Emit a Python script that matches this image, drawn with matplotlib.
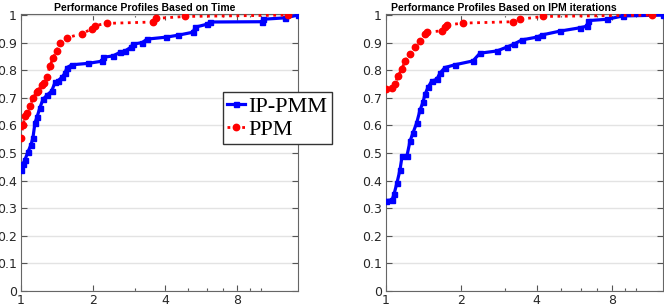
import numpy as np
import matplotlib.pyplot as plt
from matplotlib.ticker import FixedLocator, NullFormatter

# performance profile data (tau, fraction of problems)
time_ippmm_tau = [1.0, 1.019, 1.039, 1.070, 1.101, 1.122, 1.144, 1.166, 1.200,
                  1.236, 1.284, 1.343, 1.387, 1.427, 1.483, 1.527, 1.556, 1.633,
                  1.904, 2.179, 2.20, 2.42, 2.59, 2.72, 2.88, 2.93, 3.20, 3.36,
                  4.03, 4.52, 5.23, 5.33, 5.98, 6.15, 10.15, 10.24, 12.65, 14.34]
time_ippmm_rho = [0.44, 0.46, 0.476, 0.505, 0.53, 0.556, 0.61, 0.63, 0.665,
                  0.695, 0.71, 0.725, 0.756, 0.762, 0.775, 0.79, 0.81, 0.82,
                  0.825, 0.833, 0.847, 0.852, 0.865, 0.87, 0.884, 0.895, 0.9,
                  0.913, 0.92, 0.927, 0.938, 0.956, 0.967, 0.975, 0.976, 0.985,
                  0.99, 1.0]
time_ppm_tau = [1.0, 1.019, 1.039, 1.059, 1.09, 1.122, 1.163, 1.178, 1.22,
                1.247, 1.28, 1.321, 1.36, 1.41, 1.455, 1.552, 1.793, 1.973,
                2.037, 2.28, 3.56, 3.66, 4.84, 13.0]
time_ppm_rho = [0.556, 0.6, 0.633, 0.645, 0.67, 0.70, 0.72, 0.725, 0.748,
                0.755, 0.775, 0.815, 0.845, 0.87, 0.9, 0.918, 0.932, 0.95,
                0.962, 0.97, 0.975, 0.988, 0.995, 1.0]

iter_ippmm_tau = [1.0, 1.057, 1.076, 1.107, 1.138, 1.159, 1.213, 1.247, 1.282,
                  1.327, 1.367, 1.405, 1.432, 1.472, 1.523, 1.595, 1.644, 1.721,
                  1.887, 2.227, 2.375, 2.778, 3.04, 3.25, 3.49, 4.0, 4.2, 4.96,
                  5.96, 6.36, 6.42, 7.65, 8.86, 12.8]
iter_ippmm_rho = [0.328, 0.33, 0.35, 0.393, 0.44, 0.488, 0.49, 0.543, 0.573,
                  0.61, 0.655, 0.684, 0.713, 0.738, 0.761, 0.767, 0.79, 0.81,
                  0.82, 0.834, 0.862, 0.87, 0.884, 0.895, 0.91, 0.92, 0.928,
                  0.942, 0.954, 0.96, 0.98, 0.985, 0.997, 1.0]
iter_ppm_tau = [1.0, 1.057, 1.086, 1.117, 1.155, 1.191, 1.247, 1.306, 1.367,
                1.432, 1.459, 1.67, 1.721, 1.754, 2.03, 3.22, 3.43, 4.24, 11.57]
iter_ppm_rho = [0.733, 0.737, 0.75, 0.78, 0.803, 0.834, 0.858, 0.884, 0.907,
                0.93, 0.938, 0.943, 0.956, 0.964, 0.971, 0.976, 0.985, 0.995,
                1.0]

titles = ['Performance Profiles Based on Time',
          'Performance Profiles Based on IPM iterations']
x_major = [1, 2, 4, 8]
x_minor = [3, 5, 6, 7, 9, 10]
y_ticks = [0, 0.1, 0.2, 0.3, 0.4, 0.5, 0.6, 0.7, 0.8, 0.9, 1]
y_labels = ['0', '0.1', '0.2', '0.3', '0.4', '0.5', '0.6', '0.7', '0.8',
            '0.9', '1']

fig = plt.figure(figsize=(6.64, 3.07), dpi=100)
ax_time = fig.add_axes([21 / 664, 16 / 307, 277 / 664, 277 / 307])
ax_iter = fig.add_axes([386 / 664, 16 / 307, 277 / 664, 277 / 307])

panels = [
    (ax_time, time_ippmm_tau, time_ippmm_rho, time_ppm_tau, time_ppm_rho,
     14.34, 0.448),
    (ax_iter, iter_ippmm_tau, iter_ippmm_rho, iter_ppm_tau, iter_ppm_rho,
     12.8, 0.424),
]

for i, (ax, bt, br, rt, rr, xmax, title_x) in enumerate(panels):
    ax.set_xscale('log', base=2)
    ax.plot(bt, br, color='#0000ff', lw=2.3, marker='s', ms=3.6,
            label='IP-PMM', zorder=3)
    ax.plot(rt, rr, color='#ff0000', lw=2.0, ls=':', marker='o', ms=4.6,
            label='PPM', zorder=4)
    ax.set_xlim(1, xmax)
    ax.set_ylim(0, 1.004)
    ax.xaxis.set_major_locator(FixedLocator(x_major))
    ax.xaxis.set_minor_locator(FixedLocator(x_minor))
    ax.xaxis.set_minor_formatter(NullFormatter())
    ax.set_xticklabels([str(v) for v in x_major])
    ax.set_yticks(y_ticks)
    ax.set_yticklabels(y_labels)
    ax.grid(True, axis='y', color='#e3e3e3', lw=1.0)
    ax.set_axisbelow(True)
    ax.tick_params(which='both', direction='in', top=True, right=True,
                   colors='#555555', labelcolor='#262626', labelsize=9,
                   width=0.8)
    ax.tick_params(which='major', length=4)
    ax.tick_params(which='minor', length=2.5)
    ax.tick_params(axis='x', pad=2)
    ax.tick_params(axis='y', pad=3)
    for sp in ax.spines.values():
        sp.set_color('#666666')
        sp.set_linewidth(0.8)
    ax.set_title(titles[i], x=title_x, fontsize=7.5, fontweight='bold',
                 family='Liberation Sans', pad=2)

fig.legend(*ax_time.get_legend_handles_labels(),
           loc='upper left', bbox_to_anchor=(223 / 664, 1 - 92 / 307),
           frameon=True, fancybox=False, edgecolor='#333333',
           prop={'family': 'Liberation Serif', 'size': 16},
           handlelength=0.8, handletextpad=0.15, borderpad=0.2,
           labelspacing=0.1, borderaxespad=0, framealpha=1)

fig.savefig('out.png', dpi=100)
